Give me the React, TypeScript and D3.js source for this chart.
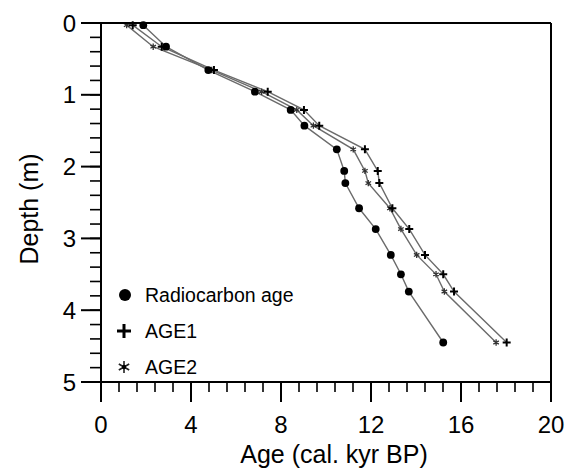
import React from 'react';
import * as d3 from 'd3';

const depths = [0.03, 0.33, 0.655, 0.957, 1.21, 1.43, 1.76, 2.06, 2.23, 2.58, 2.87, 3.23, 3.5, 3.74, 4.45];
const radiocarbonAge = [1.88, 2.89, 4.77, 6.84, 8.43, 9.04, 10.48, 10.81, 10.86, 11.47, 12.21, 12.88, 13.33, 13.68, 15.21];
const age1 = [1.41, 2.7, 5.02, 7.41, 9.02, 9.7, 11.73, 12.3, 12.37, 12.95, 13.7, 14.4, 15.21, 15.69, 18.03];
const age2 = [1.14, 2.32, 4.92, 7.14, 8.7, 9.44, 11.21, 11.73, 11.88, 12.84, 13.33, 14.03, 14.89, 15.26, 17.56];
const xTicks = [0, 4, 8, 12, 16, 20];
const yTicks = [0, 1, 2, 3, 4, 5];
const legendLabels = ['Radiocarbon age', 'AGE1', 'AGE2'];
const xTitle = 'Age (cal. kyr BP)';
const yTitle = 'Depth (m)';

const FONT = '"Liberation Sans", Arial, Helvetica, sans-serif';

function plusPath(s: number) {
  return `M${-s},0H${s}M0,${-s}V${s}`;
}
function asteriskPath(s: number) {
  const a = Math.cos(Math.PI / 6) * s;
  const b = Math.sin(Math.PI / 6) * s;
  return `M0,${-s}V${s}M${-a},${-b}L${a},${b}M${-a},${b}L${a},${-b}`;
}

export default function App() {
  const W = 572, H = 468;
  const x = d3.scaleLinear().domain([0, 20]).range([101, 551]);
  const y = d3.scaleLinear().domain([0, 5]).range([23, 382]);
  const line = d3.line<[number, number]>().x(d => x(d[0])).y(d => y(d[1]));
  const series = [radiocarbonAge, age1, age2].map(s => s.map((v, i) => [v, depths[i]] as [number, number]));
  const xMinor = d3.range(0, 20.001, 0.8);
  const yMinor = d3.range(0, 5.001, 0.2);
  const x0 = x(0), x1 = x(20), y0 = y(0), y1 = y(5);
  const lineColor = '#6b6b6b';

  return (
    <svg width={W} height={H} style={{ position: 'absolute', left: 0, top: 0, background: '#fff' }} fontFamily={FONT}>
      <rect x={0} y={0} width={W} height={H} fill="#fff" />
      {series.map((s, i) => (
        <path key={i} d={line(s) || ''} fill="none" stroke={lineColor} strokeWidth={1.4} />
      ))}
      {series[2].map((d, i) => (
        <path key={'a2' + i} transform={`translate(${x(d[0])},${y(d[1])})`} d={asteriskPath(3.2)} stroke="#333" strokeWidth={1.3} fill="none" />
      ))}
      {series[1].map((d, i) => (
        <path key={'a1' + i} transform={`translate(${x(d[0])},${y(d[1])})`} d={plusPath(4)} stroke="#000" strokeWidth={2} fill="none" />
      ))}
      {series[0].map((d, i) => (
        <circle key={'rc' + i} cx={x(d[0])} cy={y(d[1])} r={3.9} fill="#000" />
      ))}
      <line x1={x0} x2={x1} y1={y0} y2={y0} stroke="#000" strokeWidth={2} />
      <line x1={x1} x2={x1} y1={y0} y2={y1} stroke="#000" strokeWidth={2} />
      <line x1={x0} x2={x0} y1={y0} y2={y1} stroke="#000" strokeWidth={2} />
      <line x1={x0} x2={x1} y1={y1} y2={y1} stroke="#000" strokeWidth={2} />
      {xMinor.map((t, i) => (
        <line key={'xm' + i} x1={x(t)} x2={x(t)} y1={y1} y2={y1 + 10} stroke="#000" strokeWidth={1.6} />
      ))}
      {xTicks.map(t => (
        <g key={'xt' + t}>
          <line x1={x(t)} x2={x(t)} y1={y1} y2={y1 + 20} stroke="#000" strokeWidth={2} />
          <text x={x(t)} y={433} textAnchor="middle" fontSize={24} fill="#000">{t}</text>
        </g>
      ))}
      {yMinor.map((t, i) => (
        <line key={'ym' + i} x1={x0 - 11} x2={x0} y1={y(t)} y2={y(t)} stroke="#000" strokeWidth={1.6} />
      ))}
      {yTicks.map(t => (
        <g key={'yt' + t}>
          <line x1={x0 - 20} x2={x0} y1={y(t)} y2={y(t)} stroke="#000" strokeWidth={2} />
          <text x={76} y={y(t) + 8.5} textAnchor="end" fontSize={24} fill="#000">{t}</text>
        </g>
      ))}
      <text x={334} y={463} textAnchor="middle" fontSize={25} fill="#000">{xTitle}</text>
      <text transform={`translate(38,209) rotate(-90)`} textAnchor="middle" fontSize={25} fill="#000">{yTitle}</text>
      <g>
        <circle cx={125} cy={295} r={6} fill="#000" />
        <text x={145} y={302} fontSize={19.5} fill="#000">{legendLabels[0]}</text>
        <path transform="translate(124,331)" d={plusPath(7)} stroke="#000" strokeWidth={3} fill="none" />
        <text x={145} y={338} fontSize={19.5} fill="#000">{legendLabels[1]}</text>
        <path transform="translate(124,367)" d={asteriskPath(6)} stroke="#222" strokeWidth={1.6} fill="none" />
        <circle cx={124} cy={367} r={2.2} fill="#000" />
        <text x={145} y={374} fontSize={19.5} fill="#000">{legendLabels[2]}</text>
      </g>
    </svg>
  );
}
